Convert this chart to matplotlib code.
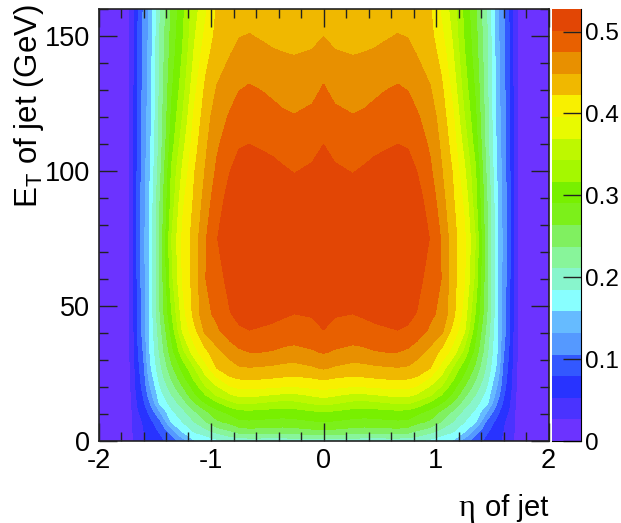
#!/usr/bin/env python3
"""eta / ET map of jets, ROOT style colour map."""

import matplotlib
matplotlib.use("Agg")
import matplotlib.pyplot as plt
from matplotlib.colors import ListedColormap
from matplotlib.ticker import MultipleLocator, FuncFormatter
import numpy as np

plt.rcParams.update({"font.family": "Liberation Sans", "mathtext.fontset": "custom",
                     "mathtext.rm": "Liberation Sans", "mathtext.it": "Liberation Sans"})

# positive eta side, the map is mirrored around eta = 0
eta = [0, .1, .26, .36, .45, .55, .66, .75, .83, .95, 1.05, 1.15, 1.25, 1.35, 1.45, 1.55, 1.6, 1.65, 1.7, 1.75, 2.0]
et = [0, 2, 4, 7, 11, 14, 17, 20, 23, 27, 33, 41, 47, 60, 75, 90, 100, 110, 120, 132, 143, 150, 160]
vals = [
    [.195, .194, .193, .192, .192, .191, .191, .189, .187, .177, .168, .155, .118, .090, .073, .059, .050, .038, .024, .008, 0],
    [.234, .232, .228, .225, .226, .227, .228, .225, .215, .200, .185, .175, .145, .105, .077, .060, .050, .038, .024, .008, 0],
    [.262, .260, .255, .253, .254, .255, .257, .252, .240, .225, .205, .190, .165, .125, .085, .062, .052, .040, .025, .008, 0],
    [.289, .287, .282, .280, .281, .283, .285, .283, .270, .258, .235, .210, .185, .160, .100, .068, .055, .042, .025, .009, 0],
    [.317, .315, .307, .306, .307, .310, .312, .310, .300, .283, .260, .235, .205, .180, .135, .085, .065, .050, .027, .010, 0],
    [.350, .345, .335, .333, .336, .340, .345, .345, .335, .310, .290, .260, .225, .195, .165, .100, .075, .055, .028, .010, 0],
    [.378, .372, .363, .364, .367, .372, .375, .375, .365, .345, .315, .285, .245, .210, .175, .115, .082, .060, .030, .011, 0],
    [.403, .400, .394, .395, .398, .400, .402, .400, .393, .365, .340, .300, .263, .225, .185, .125, .088, .065, .032, .012, 0],
    [.424, .420, .416, .418, .420, .422, .425, .422, .418, .390, .360, .320, .280, .240, .195, .135, .092, .068, .033, .012, 0],
    [.451, .445, .438, .440, .443, .445, .447, .445, .436, .422, .385, .340, .300, .257, .205, .148, .098, .072, .035, .012, 0],
    [.477, .472, .467, .469, .473, .475, .475, .470, .460, .440, .415, .385, .335, .280, .218, .154, .108, .077, .037, .013, 0],
    [.501, .494, .490, .493, .497, .499, .501, .498, .490, .470, .455, .414, .375, .300, .230, .156, .118, .082, .040, .013, 0],
    [.507, .503, .501, .504, .506, .508, .510, .507, .500, .480, .468, .430, .385, .315, .240, .157, .120, .084, .040, .014, 0],
    [.520, .518, .516, .518, .520, .520, .522, .520, .510, .490, .474, .432, .400, .335, .243, .158, .122, .086, .042, .014, 0],
    [.525, .523, .523, .524, .525, .525, .525, .523, .515, .500, .472, .433, .402, .343, .243, .158, .123, .087, .042, .014, 0],
    [.518, .514, .512, .515, .517, .520, .520, .518, .510, .490, .458, .425, .390, .325, .240, .155, .122, .087, .042, .014, 0],
    [.512, .505, .500, .504, .508, .511, .513, .511, .501, .479, .450, .420, .375, .320, .232, .150, .120, .086, .042, .014, 0],
    [.501, .493, .488, .491, .495, .498, .501, .499, .490, .470, .443, .410, .360, .305, .225, .146, .118, .085, .041, .014, 0],
    [.488, .480, .476, .478, .482, .486, .489, .486, .478, .462, .436, .400, .345, .295, .222, .143, .116, .083, .041, .014, 0],
    [.475, .467, .462, .465, .468, .472, .475, .472, .463, .448, .425, .385, .330, .285, .220, .140, .114, .081, .040, .014, 0],
    [.460, .452, .448, .450, .453, .458, .461, .459, .448, .437, .412, .372, .320, .277, .217, .138, .112, .080, .040, .014, 0],
    [.448, .440, .436, .438, .440, .445, .450, .447, .440, .430, .402, .365, .315, .273, .215, .137, .110, .079, .040, .014, 0],
    [.430, .428, .425, .425, .427, .430, .433, .432, .430, .424, .390, .357, .310, .268, .212, .135, .108, .078, .040, .013, 0],
]
band_colors = ["#6C33FF", "#4A33FF", "#2833FF", "#3358FF", "#5599FF", "#66BBFF", "#88FFFF",
               "#88F5CC", "#88F59A", "#80F060", "#7CF01A", "#78F000", "#A5F800", "#BEF800",
               "#E8FA00", "#F8F000", "#F0B800", "#E89000", "#E86000", "#E24605"]
z_max = 0.5275

W, H = 621.0, 523.0
fig = plt.figure(figsize=(W / 100, H / 100), dpi=100, facecolor="white")
ax = fig.add_axes([98.5 / W, 1 - 441 / H, 450 / W, 432 / H])
cax = fig.add_axes([552 / W, 1 - 441 / H, 28.5 / W, 432 / H])

half = np.array(vals)
z = np.hstack([half[:, :0:-1], half])
x = np.r_[-np.array(eta[:0:-1]), eta]
levels = np.linspace(0, z_max, len(band_colors) + 1)
cs = ax.contourf(x, et, z, levels=levels, cmap=ListedColormap(band_colors), antialiased=False)

ax.set_xlim(-2, 2)
ax.set_ylim(0, 160)
ax.xaxis.set_major_locator(MultipleLocator(1))
ax.xaxis.set_minor_locator(MultipleLocator(0.2))
ax.yaxis.set_major_locator(MultipleLocator(50))
ax.yaxis.set_minor_locator(MultipleLocator(10))
ax.xaxis.set_major_formatter(FuncFormatter(lambda v, p: f"{v:.0f}"))
ax.tick_params(which="both", direction="in", top=True, right=True, width=1, color="#222222")
ax.tick_params(which="major", length=13, labelsize=19.5, pad=5)
ax.tick_params(which="minor", length=6.5)
ax.tick_params(axis="y", which="major", pad=6)
for s in ax.spines.values():
    s.set_linewidth(1.2)
    s.set_color("#222222")

cb = fig.colorbar(cs, cax=cax, ticks=[0, .1, .2, .3, .4, .5], drawedges=False)
cb.outline.set_visible(False)
cax.spines["right"].set_visible(True)
cax.spines["bottom"].set_visible(True)
cax.minorticks_off()
cax.yaxis.set_major_formatter(FuncFormatter(lambda v, p: f"{v:g}"))
cax.tick_params(axis="y", direction="in", length=13, width=1, labelsize=17.5, pad=3, color="#222222")

fig.text(46.5 / W, 1 - 4 / H, r"$\mathrm{E_T}$ of jet (GeV)", rotation=90, ha="right", va="top", fontsize=22.5)
fig.text(548 / W, 1 - 516 / H, "of jet", ha="right", va="baseline", fontsize=21)
fig.text(458 / W, 1 - 516 / H, "\u03b7", ha="left", va="baseline", fontsize=23, family="Liberation Serif")

fig.savefig("out.png", dpi=100)
